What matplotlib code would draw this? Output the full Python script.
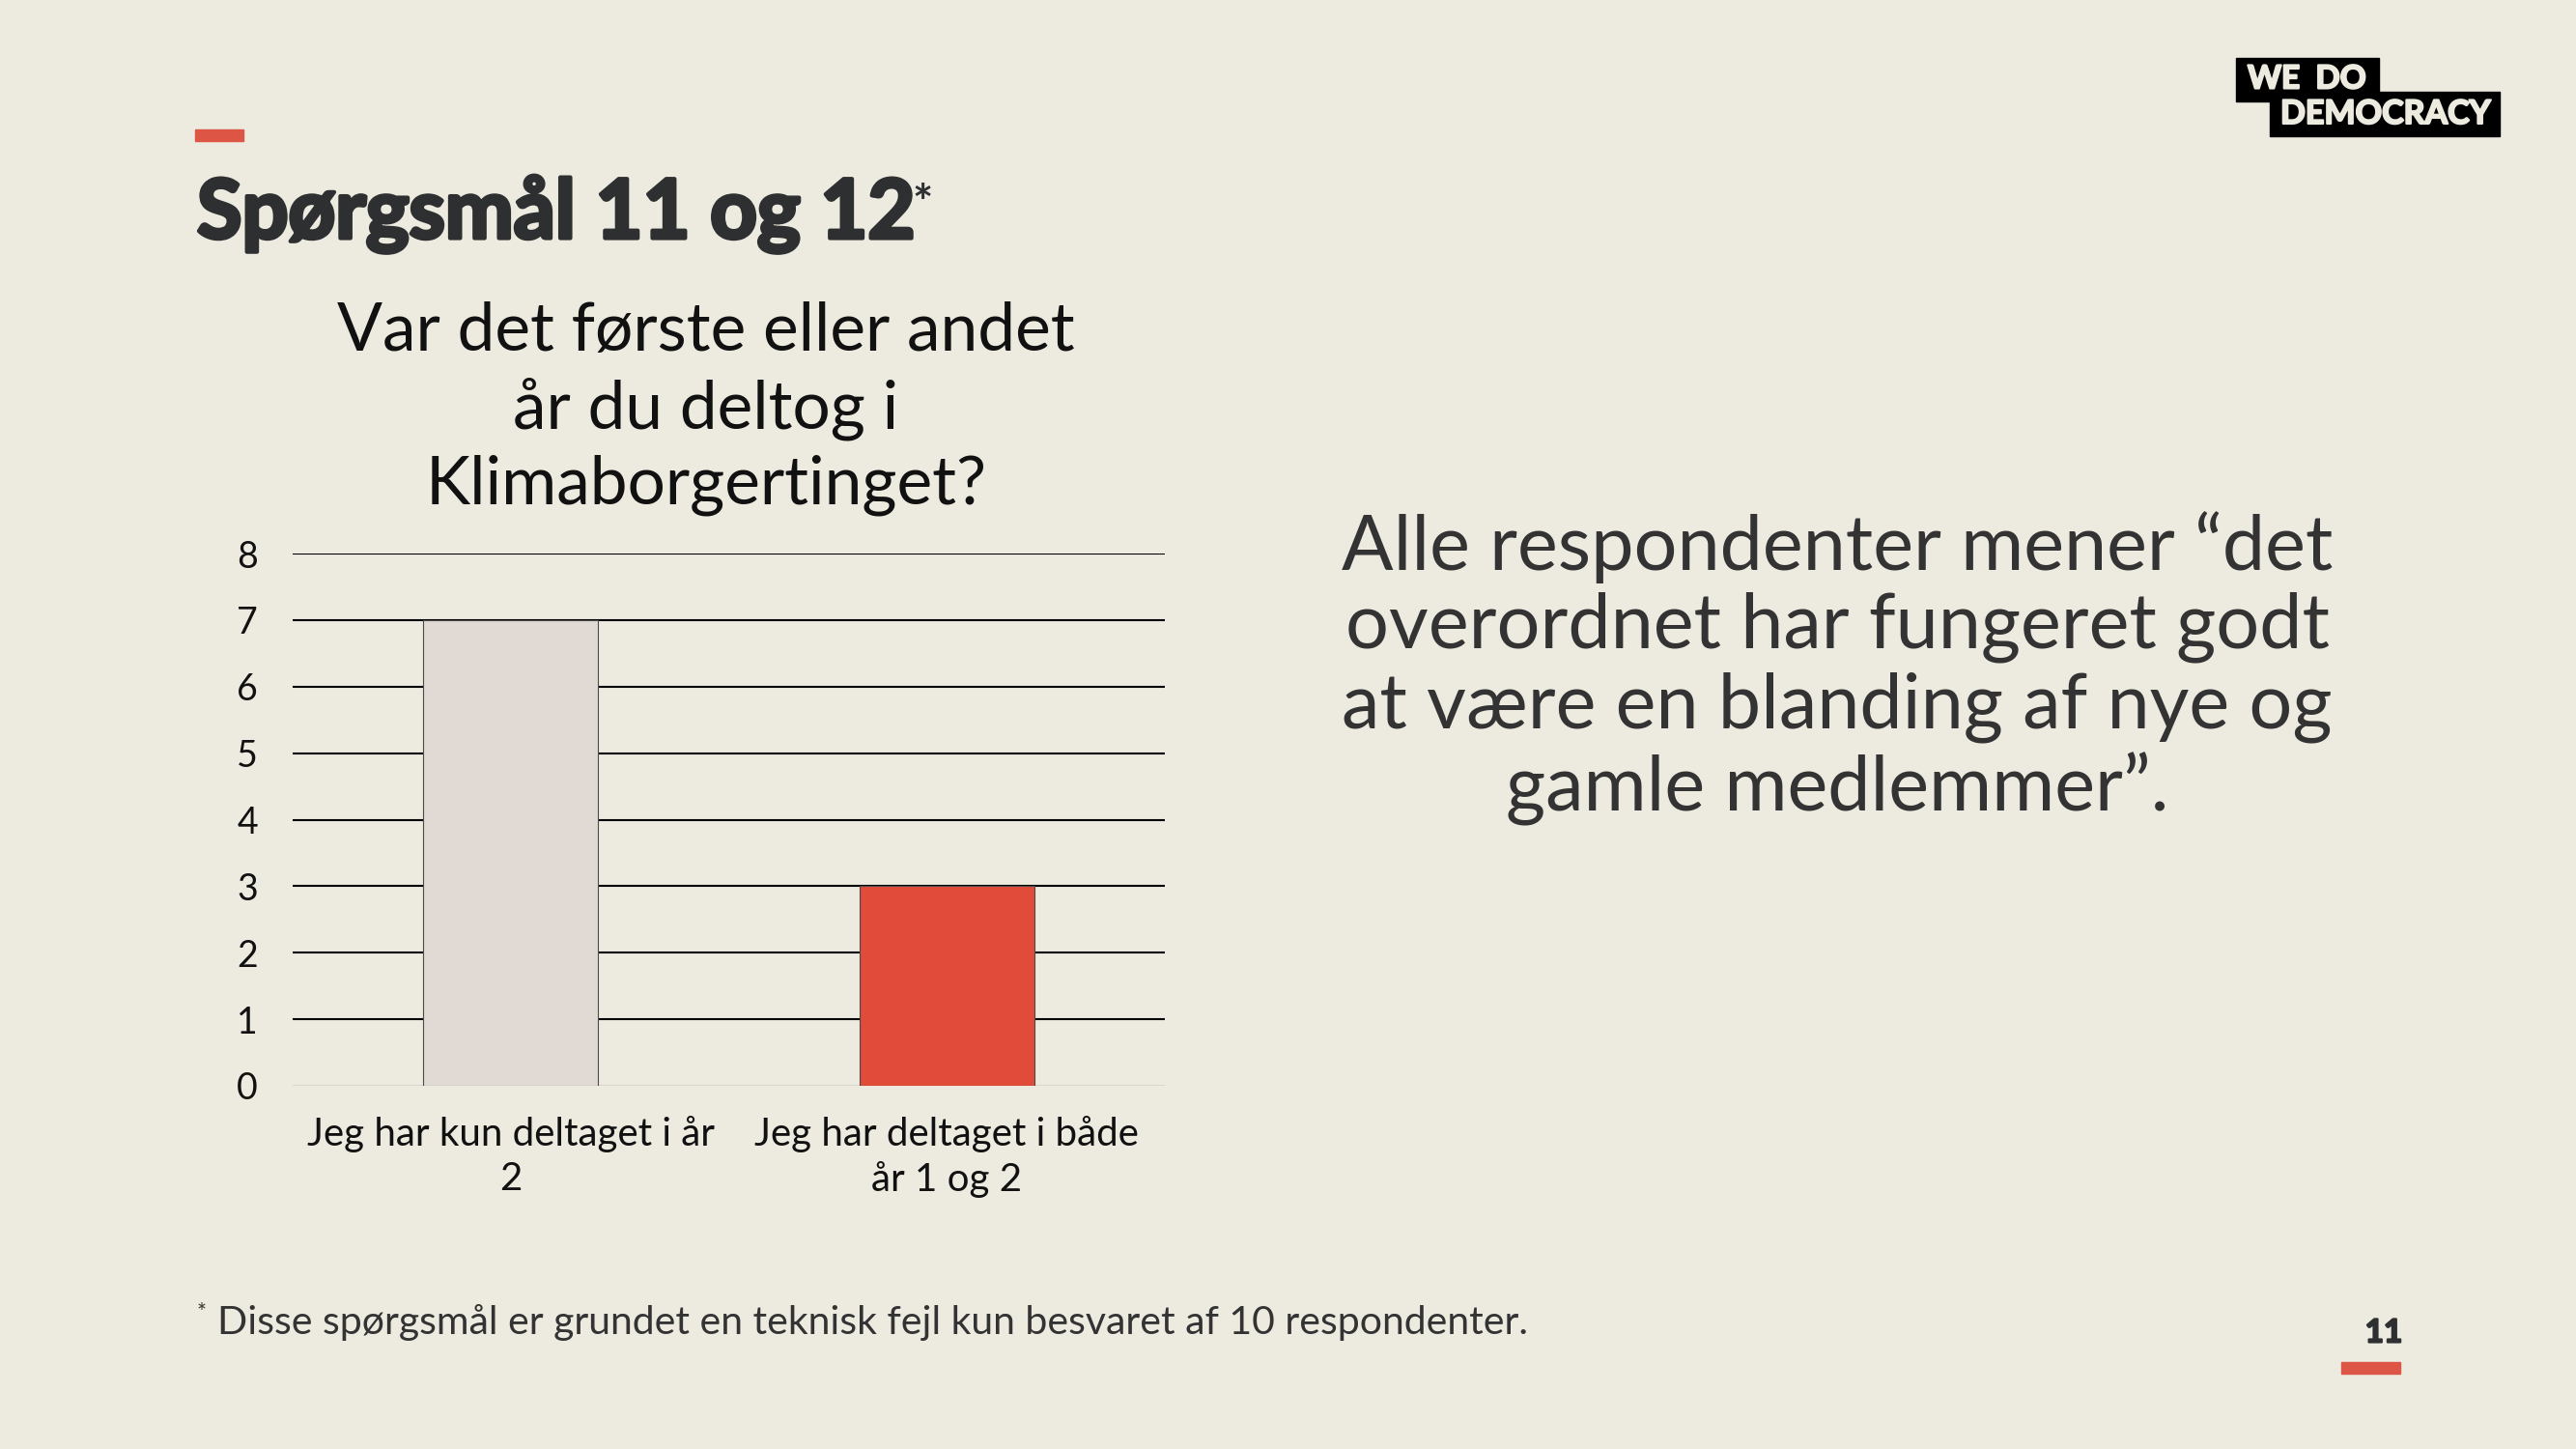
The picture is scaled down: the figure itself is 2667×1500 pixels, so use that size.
import matplotlib.pyplot as plt
import matplotlib.patheffects as pe

# Data fra diasset
kategorier = ["Jeg har kun deltaget i år\n2", "Jeg har deltaget i både\når 1 og 2"]
antal = [7, 3]
farver = ["#e0d9d4", "#e04b3a"]
y_ticks = [0, 1, 2, 3, 4, 5, 6, 7, 8]

baggrund = "#edeae0"
moerk = "#2d2f30"
roed = "#dd5544"

plt.rcParams["font.family"] = ["Lato", "DejaVu Sans"]

# ekstra fed skrift via streg rundt om bogstaverne
def fed(farve, b=2.5):
    return [pe.withStroke(linewidth=b, foreground=farve)]

fig = plt.figure(figsize=(26.67, 15), dpi=100)
fig.patch.set_facecolor(baggrund)

# Rød streg over titlen
fig.patches.append(plt.Rectangle((202 / 2667, 1 - 146 / 1500), 50 / 2667, 12 / 1500,
                                 transform=fig.transFigure, color=roed))
fig.text(204 / 2667, 1 - 222 / 1500, "Spørgsmål 11 og 12", fontsize=61, fontweight="bold",
         color=moerk, va="center", ha="left", path_effects=fed(moerk, 3))
fig.text(944 / 2667, 1 - 212 / 1500, "*", fontsize=36, fontweight="bold", color=moerk,
         va="center", ha="left")

# Diagramtitel
fig.text(731 / 2667, 1 - 423 / 1500, "Var det første eller andet\når du deltog i\nKlimaborgertinget?",
         fontsize=50, fontweight="normal", color="#111111", ha="center", va="center",
         linespacing=1.28)

# Tekst til højre
fig.text(1902 / 2667, 1 - 692 / 1500,
         "Alle respondenter mener “det\noverordnet har fungeret godt\nat være en blanding af nye og\ngamle medlemmer”.",
         fontsize=57, fontweight="normal", color="#333333", ha="center", va="center",
         linespacing=1.16)

# Fodnote
fig.text(204 / 2667, 1 - 1358 / 1500, "*", fontsize=17, color="#333333",
         va="center", ha="left")
fig.text(225 / 2667, 1 - 1369 / 1500,
         "Disse spørgsmål er grundet en teknisk fejl kun besvaret af 10 respondenter.",
         fontsize=29.5, fontweight="normal", color="#333333", va="center", ha="left")

# Sidetal
fig.text(2468 / 2667, 1 - 1380 / 1500, "11", fontsize=24, fontweight="bold", color=moerk,
         ha="center", va="center", path_effects=fed(moerk, 1.5))
fig.patches.append(plt.Rectangle((2424 / 2667, 1 - 1422 / 1500), 61 / 2667, 12 / 1500,
                                 transform=fig.transFigure, color=roed))

# Logo
fig.patches.append(plt.Rectangle((2315 / 2667, 1 - 105 / 1500), 148 / 2667, 45 / 1500,
                                 transform=fig.transFigure, color="black"))
fig.patches.append(plt.Rectangle((2350 / 2667, 1 - 141 / 1500), 238 / 2667, 46 / 1500,
                                 transform=fig.transFigure, color="black"))
fig.text(2327 / 2667, 1 - 82 / 1500, "WE  DO", fontsize=24, fontweight="bold", color=baggrund,
         ha="left", va="center", path_effects=fed(baggrund, 1.5))
fig.text(2361 / 2667, 1 - 118 / 1500, "DEMOCRACY", fontsize=24.5, fontweight="bold",
         color=baggrund, ha="left", va="center", path_effects=fed(baggrund, 1.5))

# Søjlediagram
ax = fig.add_axes([303 / 2667, 1 - 1124 / 1500, 903 / 2667, 551 / 1500])
ax.set_facecolor(baggrund)
x = range(len(kategorier))
ax.bar(x, antal, width=0.4, color=farver, edgecolor="#4a4a4a", linewidth=0.8, zorder=2)

ax.set_xlim(-0.5, len(kategorier) - 0.5)
ax.set_ylim(0, 8)
ax.set_yticks(y_ticks)
ax.set_xticks(list(x))
ax.set_xticklabels(kategorier, fontsize=29, fontweight="normal", color="#111111",
                   multialignment="center", linespacing=1.3)
ax.tick_params(axis="y", length=0, pad=26, labelsize=27, labelcolor="#111111")
ax.tick_params(axis="x", length=0, pad=22)

ax.set_axisbelow(True)
ax.yaxis.grid(True, color="black", linewidth=1.5, zorder=1)
ax.yaxis.get_gridlines()[0].set_color("#d9d6d0")
for s in ax.spines.values():
    s.set_visible(False)

fig.savefig("out.png", dpi=100, facecolor=baggrund)
